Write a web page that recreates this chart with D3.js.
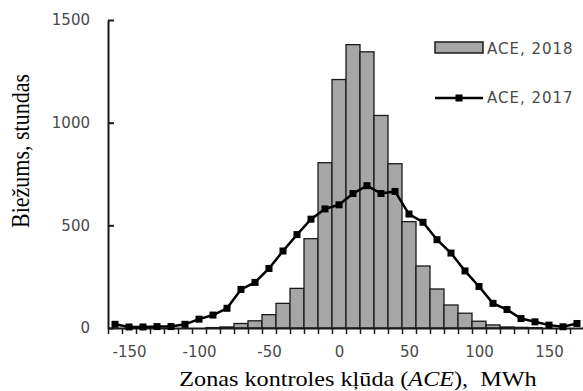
<!DOCTYPE html>
<html>
<head>
<meta charset="utf-8">
<script src="https://cdn.jsdelivr.net/npm/d3@7"></script>
<style>
  html, body { margin: 0; padding: 0; background: #fff; }
  svg { display: block; }
</style>
</head>
<body>
<svg id="chart" width="583" height="391"></svg>
<script>
// Bin centres of the ACE histogram, MWh
const binCenters = [-160,-150,-140,-130,-120,-110,-100,-90,-80,-70,-60,-50,-40,-30,-20,-10,
                    0,10,20,30,40,50,60,70,80,90,100,110,120,130,140,150,160,170];
// ACE 2018: hours per bin (bars)
const hours2018 = [0,0,0,0,0,0,0,2,5,22,35,65,120,193,435,805,
                   1210,1380,1345,1035,800,518,302,190,112,72,33,15,5,3,2,0,0,0];
// ACE 2017: hours per bin (line with markers)
const hours2017 = [18,5,5,7,7,18,43,63,96,188,222,290,375,455,530,580,
                   600,655,693,655,665,555,515,430,365,278,202,120,90,46,30,14,6,22];
const xTickLabels = [-150,-100,-50,0,50,100,150];
const yTickLabels = [0,500,1000,1500];
const seriesNames = ["ACE, 2018", "ACE, 2017"];
const binWidth = 10;

const svg = d3.select("#chart");
const x = d3.scaleLinear().domain([-165, 175]).range([108, 584]);
const y = d3.scaleLinear().domain([0, 1500]).range([328, 20]);

const ink = "#1a1a1a";
const labelColor = "#4a4a4a";

// histogram bars
svg.append("g").selectAll("rect")
  .data(binCenters.map((c, i) => ({c, v: hours2018[i]})).filter(d => d.v > 0))
  .join("rect")
  .attr("x", d => x(d.c - binWidth / 2))
  .attr("width", d => x(d.c + binWidth / 2) - x(d.c - binWidth / 2))
  .attr("y", d => y(d.v))
  .attr("height", d => y(0) - y(d.v))
  .attr("fill", "#a6a6a6")
  .attr("stroke", ink)
  .attr("stroke-width", 1.3);

// x axis: small ticks on bin edges, labels every 50 MWh
const binEdges = d3.range(-165, 176, binWidth);
const gx = svg.append("g").attr("transform", `translate(0,${y(0)})`);
gx.call(d3.axisBottom(x).tickValues(binEdges).tickFormat("").tickSizeInner(6).tickSizeOuter(0));
gx.select(".domain").attr("stroke", ink).attr("stroke-width", 2);
gx.selectAll(".tick line").attr("stroke", ink).attr("stroke-width", 1.5);

const gxl = svg.append("g").attr("transform", `translate(0,${y(0)})`);
gxl.call(d3.axisBottom(x).tickValues(xTickLabels).tickFormat(d => String(d)).tickSize(0).tickPadding(18));
gxl.select(".domain").remove();
gxl.selectAll(".tick text")
  .attr("font-family", "DejaVu Sans").attr("font-size", 15).attr("fill", labelColor);

// y axis with inward ticks
const gy = svg.append("g").attr("transform", `translate(${x(-165)},0)`);
gy.call(d3.axisLeft(y).tickValues(yTickLabels).tickFormat(d => String(d))
  .tickSizeInner(-6).tickSizeOuter(0).tickPadding(18));
gy.select(".domain").attr("stroke", ink).attr("stroke-width", 2);
gy.selectAll(".tick line").attr("stroke", ink).attr("stroke-width", 2);
gy.selectAll(".tick text")
  .attr("font-family", "DejaVu Sans").attr("font-size", 15).attr("fill", labelColor);

// 2017 line with square markers
const pts = binCenters.map((c, i) => ({c, v: hours2017[i]}));
svg.append("path")
  .datum(pts)
  .attr("fill", "none")
  .attr("stroke", "#000")
  .attr("stroke-width", 2.5)
  .attr("d", d3.line().x(d => x(d.c)).y(d => y(d.v)));
const ms = 7;
svg.append("g").selectAll("rect")
  .data(pts)
  .join("rect")
  .attr("x", d => x(d.c) - ms / 2)
  .attr("y", d => y(d.v) - ms / 2)
  .attr("width", ms).attr("height", ms)
  .attr("fill", "#000");

// legend
const lg = svg.append("g");
lg.append("rect").attr("x", 435).attr("y", 42).attr("width", 48).attr("height", 11)
  .attr("fill", "#a6a6a6").attr("stroke", ink).attr("stroke-width", 1.5);
lg.append("text").attr("x", 487).attr("y", 54).text(seriesNames[0]);
lg.append("line").attr("x1", 435).attr("x2", 483).attr("y1", 98).attr("y2", 98)
  .attr("stroke", "#000").attr("stroke-width", 2.5);
lg.append("rect").attr("x", 459 - ms / 2).attr("y", 98 - ms / 2).attr("width", ms).attr("height", ms)
  .attr("fill", "#000");
lg.append("text").attr("x", 487).attr("y", 103).text(seriesNames[1]);
lg.selectAll("text")
  .attr("font-family", "DejaVu Sans").attr("font-size", 15)
  .attr("letter-spacing", 1).attr("fill", labelColor);

// axis titles
const xt = svg.append("text")
  .attr("transform", "translate(358,386) scale(1.1,1)")
  .attr("text-anchor", "middle")
  .attr("font-family", "Liberation Serif").attr("font-size", 22).attr("fill", "#000")
  .style("white-space", "pre");
xt.append("tspan").text("Zonas kontroles kļūda (");
xt.append("tspan").attr("font-style", "italic").text("ACE");
xt.append("tspan").text("),  MWh");

svg.append("text")
  .attr("transform", "translate(29,151) rotate(-90) scale(1,1.1)")
  .attr("text-anchor", "middle")
  .attr("font-family", "Liberation Serif").attr("font-size", 22).attr("fill", "#000")
  .text("Biežums, stundas");
</script>
</body>
</html>
